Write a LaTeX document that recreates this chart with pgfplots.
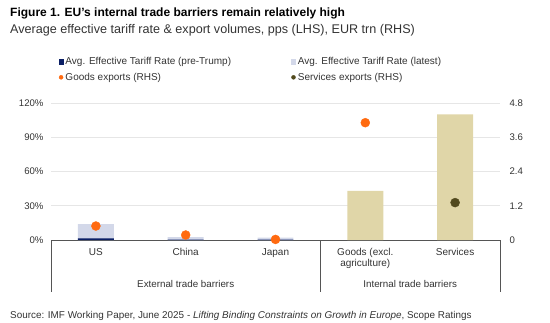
\documentclass[border=0pt]{standalone}
\usepackage{pgfplots}
\pgfplotsset{compat=1.18}
\usepackage{fontspec}
\setmainfont{Liberation Sans}
\definecolor{navy}{HTML}{0B1F65}
\definecolor{lav}{HTML}{D3D8E9}
\definecolor{khaki}{HTML}{E0D6A8}
\definecolor{dotorange}{HTML}{FF6A10}
\definecolor{olive}{HTML}{524A1E}
\definecolor{gridgray}{HTML}{E6E6E6}
\definecolor{axgray}{HTML}{555555}
\definecolor{txt}{HTML}{333333}
\begin{document}
\begin{tikzpicture}[x=1pt,y=1pt]
\path[use as bounding box] (0,0) rectangle (550,322);
\node[anchor=base west, inner sep=0] at (10,305.5) {\fontsize{12}{14}\selectfont\bfseries Figure 1. EU’s internal trade barriers remain relatively high};
\node[anchor=base west, inner sep=0, text=txt] at (10,288) {\fontsize{12.6}{14}\selectfont Average effective tariff rate \& export volumes, pps (LHS), EUR trn (RHS)};
\node[anchor=base west, inner sep=0, text=txt] at (10,3.5) {\fontsize{9.9}{11}\selectfont Source: IMF Working Paper, June 2025 - \textit{Lifting Binding Constraints on Growth in Europe}, Scope Ratings};

\begin{axis}[
  at={(51pt,82pt)}, anchor=south west, scale only axis,
  width=449pt, height=137pt,
  xmin=-0.5, xmax=4.5, ymin=0, ymax=120,
  axis x line*=bottom, axis y line*=left,
  x axis line style={draw=axgray, line width=0.8pt, -},
  y axis line style={draw=none},
  xtick={0,1,2,3,4},
  xticklabels={US,China,Japan,{Goods (excl.\\agriculture)},Services},
  xticklabel style={align=center, text=txt, font=\fontsize{10}{11}\selectfont, yshift=-5pt},
  ytick={0,30,60,90,120},
  yticklabel={\pgfmathprintnumber{\tick}\%},
  yticklabel style={text=txt, font=\fontsize{9.6}{11}\selectfont, xshift=-4pt},
  /pgf/number format/assume math mode=true,
  tick style={draw=none},
  ymajorgrids, grid style={draw=gridgray, line width=0.8pt},
  clip=false,
]
\addplot[ybar, bar width=0.4, bar shift=0pt, fill=lav, draw=none] coordinates {(0,14) (1,2.5) (2,2)};
\addplot[ybar, bar width=0.4, bar shift=0pt, fill=navy, draw=none] coordinates {(0,1.5) (1,0.4) (2,0.3)};
\addplot[ybar, bar width=0.4, bar shift=0pt, fill=khaki, draw=none] coordinates {(3,43) (4,110)};
\draw[axgray, line width=0.8pt] (axis cs:-0.5,0) -- ++(0pt,-52pt);
\draw[axgray, line width=0.8pt] (axis cs:2.5,0) -- ++(0pt,-52pt);
\draw[axgray, line width=0.8pt] (axis cs:4.5,0) -- ++(0pt,-52pt);
\node[text=txt, font=\fontsize{9.8}{11}\selectfont] at ([yshift=-44pt]axis cs:1,0) {External trade barriers};
\node[text=txt, font=\fontsize{9.8}{11}\selectfont] at ([yshift=-44pt]axis cs:3.5,0) {Internal trade barriers};
\end{axis}

\begin{axis}[
  at={(51pt,82pt)}, anchor=south west, scale only axis,
  width=449pt, height=137pt,
  xmin=-0.5, xmax=4.5, ymin=0, ymax=4.8,
  axis x line=none, axis y line*=right,
  y axis line style={draw=none},
  ytick={0,1.2,2.4,3.6,4.8},
  yticklabel style={text=txt, font=\fontsize{9.6}{11}\selectfont, xshift=6pt,
    /pgf/number format/fixed, /pgf/number format/precision=1},
  /pgf/number format/assume math mode=true,
  tick style={draw=none},
  clip=false,
  legend columns=2,
  legend cell align=left,
  legend style={at={(axis description cs:0.01,1.365)}, anchor=north west, draw=none, fill=none,
    font=\fontsize{10}{11}\selectfont, text=txt,
    /tikz/every even column/.append style={column sep=58pt}, row sep=3pt},
]
\addlegendimage{navy, legend image code/.code={\fill (0pt,-2.2pt) rectangle (4.4pt,2.2pt);}}
\addlegendentry{Avg. Effective Tariff Rate (pre-Trump)}
\addlegendimage{lav, legend image code/.code={\fill (0pt,-2.2pt) rectangle (4.4pt,2.2pt);}}
\addlegendentry{Avg. Effective Tariff Rate (latest)}
\addplot[only marks, mark=*, mark size=4.5pt, color=dotorange, legend image code/.code={\fill (2.2pt,0pt) circle (2pt);}] coordinates {(0,0.49) (1,0.175) (2,0.02) (3,4.11)};
\addlegendentry{Goods exports (RHS)}
\addplot[only marks, mark=*, mark size=4.5pt, color=olive, legend image code/.code={\fill (2.2pt,0pt) circle (2pt);}] coordinates {(4,1.31)};
\addlegendentry{Services exports (RHS)}
\end{axis}
\end{tikzpicture}
\end{document}
